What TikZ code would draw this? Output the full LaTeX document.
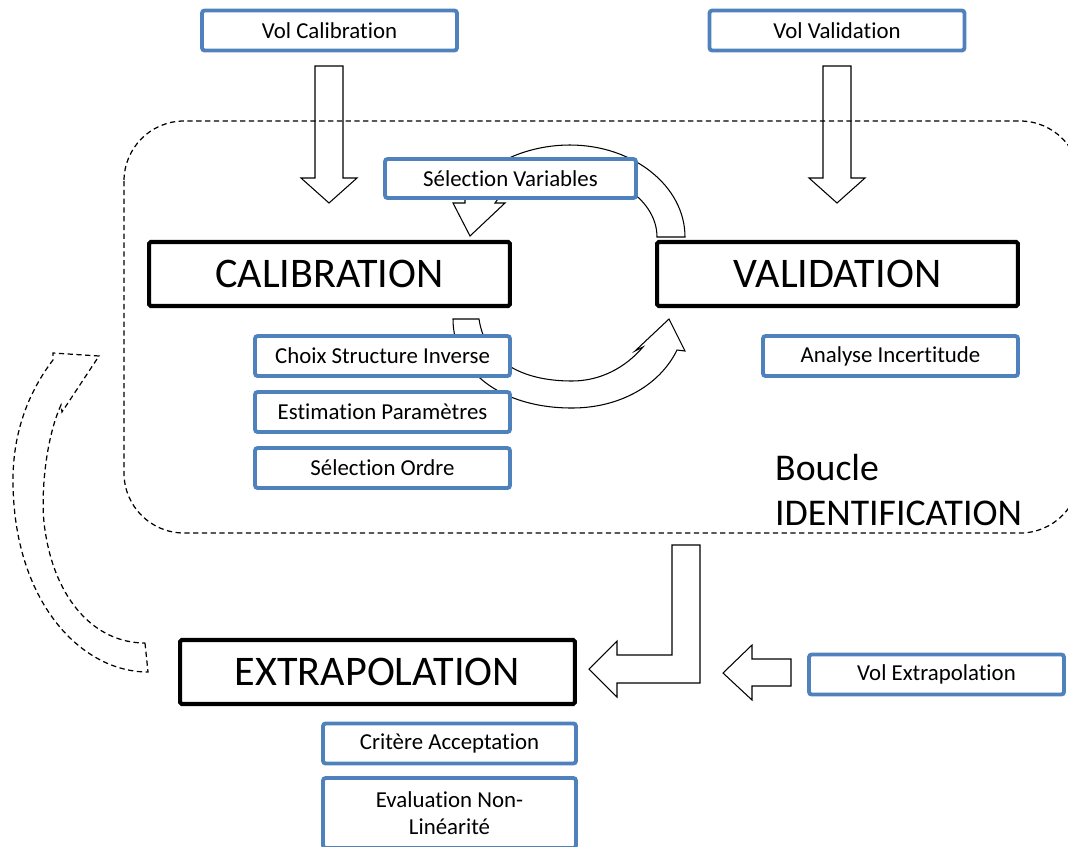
\documentclass[tikz,border=0pt]{standalone}
\usepackage{fontspec}
\setmainfont{Carlito}[Ligatures=NoCommon]
\usetikzlibrary{positioning}

\definecolor{boxblue}{HTML}{4F81BD}

\tikzset{
  subbox/.style={draw=boxblue, line width=2.2pt, rounded corners=1.5pt, fill=white,
    minimum width=5.1cm, minimum height=0.8cm, inner sep=0pt, align=center,
    font=\fontsize{13}{15.5}\selectfont},
  mainbox/.style={draw=black, line width=2.3pt, rounded corners=1pt, fill=white,
    minimum width=7.22cm, minimum height=1.28cm, inner sep=0pt,
    font=\fontsize{24}{28}\selectfont},
  blockarrow/.style={draw=black, line width=0.6pt, fill=white, line join=miter},
  loopline/.style={draw=black, line width=0.7pt, dash pattern=on 3pt off 2pt}
}

\begin{document}
\begin{tikzpicture}[x=0.02cm, y=-0.02cm]
\useasboundingbox (0,0) rectangle (1068,846);

% input arrows
\draw[blockarrow] (315,66) -- (343,66) -- (343,178) -- (357,178) -- (329,203)
    -- (301,178) -- (315,178) -- cycle;
\draw[blockarrow] (823,66) -- (851,66) -- (851,178) -- (865,178) -- (837,203)
    -- (809,178) -- (823,178) -- cycle;

% identification loop
\draw[loopline, rounded corners=1.2cm] (124,121) rectangle (1080,533);
\node[anchor=base west, align=left, font=\fontsize{21.5}{25.5}\selectfont]
    (boucle) at (769,525) {Boucle\\IDENTIFICATION};

% curved arrows of the loop
\draw[blockarrow] (657,237) -- (685,237)
    .. controls (685,186) and (633,145) .. (570,145)
    .. controls (520,145) and (475,170) .. (465,200)
    -- (465,203) -- (453,203) -- (470,236) -- (505,203) -- (495,203)
    .. controls (510,180) and (540,173) .. (570,173)
    .. controls (618,173) and (657,202) .. (657,237) -- cycle;
\draw[blockarrow] (453,319) -- (479,319)
    .. controls (485,360) and (520,381) .. (572,381)
    .. controls (600,381) and (625,368) .. (643,347)
    -- (635,351) -- (669,319) -- (685,351) -- (677,350)
    .. controls (660,385) and (620,408) .. (572,408)
    .. controls (500,408) and (453,370) .. (453,319) -- cycle;

% towards extrapolation
\draw[blockarrow] (672,545) -- (700,545) -- (700,683) -- (617,683) -- (617,697)
    -- (589,669) -- (617,641) -- (617,655) -- (672,655) -- cycle;
\draw[blockarrow] (791,659) -- (791,686) -- (752,686) -- (752,700) -- (723,673)
    -- (752,645) -- (752,659) -- cycle;

% back to the loop
\draw[loopline] (145,643) -- (148,672)
    .. controls (80,672) and (13,600) .. (13,480)
    .. controls (13,430) and (30,390) .. (53,360)
    -- (53,353) -- (99,356) -- (62,412) -- (61,405)
    .. controls (45,440) and (40,500) .. (45,530)
    .. controls (55,600) and (95,643) .. (145,643) -- cycle;

% boxes
\node[subbox] (volcal) at (329.5,30.5) {Vol Calibration};
\node[subbox] (volval) at (837,30.5) {Vol Validation};
\node[subbox, minimum width=5.02cm, minimum height=0.78cm] (selvar) at (510.5,178.5) {Sélection Variables};
\node[mainbox] (calib) at (329.5,274) {CALIBRATION};
\node[mainbox] (valid) at (837.5,274) {VALIDATION};
\node[subbox] (choix) at (382.5,356) {Choix Structure Inverse};
\node[subbox] (estim) at (382.5,412) {Estimation Paramètres};
\node[subbox] (selord) at (382.5,468) {Sélection Ordre};
\node[subbox] (incert) at (890.5,356) {Analyse Incertitude};
\node[mainbox, minimum width=7.9cm] (extrap) at (377.5,672) {EXTRAPOLATION};
\node[subbox] (volext) at (936.5,674.5) {Vol Extrapolation};
\node[subbox, minimum width=5.06cm] (critere) at (449.5,743.5) {Critère Acceptation};
\node[subbox, minimum width=5.06cm, minimum height=1.4cm] (nonlin) at (449.5,813)
    {Evaluation Non-\\Linéarité};
\end{tikzpicture}
\end{document}
